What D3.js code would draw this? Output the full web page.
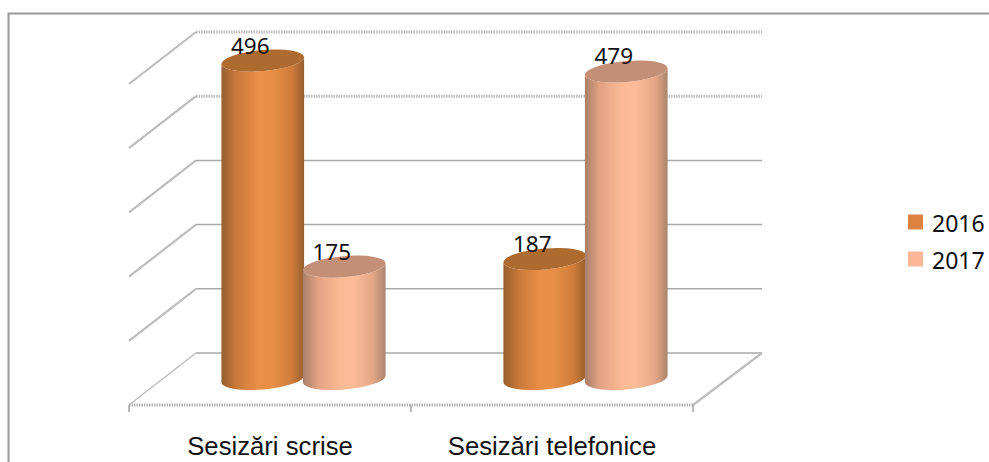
<!DOCTYPE html>
<html>
<head>
<meta charset="utf-8">
<script src="https://d3js.org/d3.v7.min.js"></script>
<style>
  html, body { margin: 0; padding: 0; background: #fff; overflow: hidden; }
  svg { display: block; }
</style>
</head>
<body>
<div class="chart"></div>
<script>
var categories = ["Sesizări scrise", "Sesizări telefonice"];
var seriesNames = ["2016", "2017"];
var values2016 = [496, 187];
var values2017 = [175, 479];
var gridTicks = [0, 100, 200, 300, 400, 500];

var w = 989;
var h = 462;

var frontLeft = 129, frontRight = 693, frontY = 405;
var depthX = 67, depthY = 52; // floor skew, front edge to back wall
var rx = 41.5, ry = 10.5, tilt = -5;

var svg = d3.select(".chart").append("svg")
    .attr("width", w)
    .attr("height", h);

var yScale = d3.scaleLinear().domain([0, 500]).range([353, 32]);
var xScale = d3.scaleBand().domain(categories).range([frontLeft, frontRight]);
var serScale = d3.scaleBand().domain(seriesNames).range([93, 256]);

// gradients for the cylinders
var defs = svg.append("defs");
var gradStops = {
    "2016": ["#95602f", "#c9783a", "#e98f47", "#e98f47", "#cf7c3a", "#97602e"],
    "2017": ["#a97f69", "#e2a283", "#fcb994", "#fdbd98", "#e4a686", "#ab846d"]
};
var stopAt = [0, 0.18, 0.45, 0.6, 0.85, 1];
seriesNames.forEach(function(s) {
    var g = defs.append("linearGradient").attr("id", "cyl" + s);
    gradStops[s].forEach(function(c, i) {
        g.append("stop").attr("offset", stopAt[i]).attr("stop-color", c);
    });
});
var topColor = {"2016": "#ad6b30", "2017": "#c39077"};
var swatchColor = {"2016": "#dc843f", "2017": "#fbb796"};

// outer frame, runs off the picture on the right and bottom
svg.append("path")
    .attr("d", "M8.5," + h + "V13.5H" + w)
    .attr("fill", "none")
    .attr("stroke", "#9a9a9a")
    .attr("stroke-width", 2);

// back wall lines
svg.selectAll(".grid")
    .data(gridTicks)
    .enter().append("line")
    .attr("class", "grid")
    .attr("x1", frontLeft + depthX)
    .attr("x2", 762)
    .attr("y1", function(d) { return yScale(d); })
    .attr("y2", function(d) { return yScale(d); })
    .attr("stroke", function(d) { return d >= 400 ? "#bdbdbd" : "#a9a9a9"; })
    .attr("stroke-width", function(d) { return d >= 400 ? 3 : 1.5; })
    .attr("stroke-dasharray", function(d) { return d >= 400 ? "1.5 1" : null; });

// side wall lines
svg.selectAll(".wall")
    .data(gridTicks)
    .enter().append("line")
    .attr("class", "wall")
    .attr("x1", frontLeft)
    .attr("x2", frontLeft + depthX)
    .attr("y1", function(d) { return yScale(d) + depthY; })
    .attr("y2", function(d) { return yScale(d); })
    .attr("stroke", "#bdbdbd")
    .attr("stroke-width", function(d) { return d > 0 ? 2.2 : 1.5; });

// floor
svg.append("path")
    .attr("d", "M" + frontLeft + "," + frontY + "H" + frontRight)
    .attr("stroke", "#b5b5b5")
    .attr("stroke-width", 3)
    .attr("stroke-dasharray", "1.5 1");
svg.append("line")
    .attr("x1", frontRight)
    .attr("y1", frontY)
    .attr("x2", 762)
    .attr("y2", yScale(0))
    .attr("stroke", "#bdbdbd")
    .attr("stroke-width", 2.2);

// axis labels
var xAxis = d3.axisBottom(xScale).tickSize(0).tickPadding(31);
var axisG = svg.append("g")
    .attr("transform", "translate(0," + (frontY + 1) + ")")
    .call(xAxis);
axisG.select(".domain").remove();
axisG.selectAll("text")
    .attr("fill", "#111")
    .style("font-family", "'Liberation Sans', sans-serif")
    .style("font-size", "25.7px");

svg.selectAll(".tickmark")
    .data([frontLeft, xScale(categories[1]), frontRight])
    .enter().append("line")
    .attr("class", "tickmark")
    .attr("x1", function(d) { return d; })
    .attr("x2", function(d) { return d; })
    .attr("y1", frontY)
    .attr("y2", frontY + 7)
    .attr("stroke", "#a0a0a0")
    .attr("stroke-width", 1.5);

// flatten to one list, drawn left to right so the next cylinder sits on top
var bars = [];
categories.forEach(function(c, i) {
    bars.push({cat: c, ser: "2016", value: values2016[i]});
    bars.push({cat: c, ser: "2017", value: values2017[i]});
});

function cx(d) { return xScale(d.cat) + serScale(d.ser) + serScale.bandwidth() / 2; }
var cylDepth = 26;
function topY(d) { return yScale(d.value) + cylDepth; }
var baseY = yScale(0) + cylDepth;
var dxT = rx * Math.cos(tilt * Math.PI / 180);
var dyT = rx * Math.sin(tilt * Math.PI / 180);

function bodyPath(d) {
    var x = cx(d), t = topY(d);
    return "M" + (x - dxT) + "," + (t - dyT) +
        "L" + (x - dxT) + "," + (baseY - dyT) +
        "A" + rx + "," + ry + "," + tilt + ",0,0," + (x + dxT) + "," + (baseY + dyT) +
        "L" + (x + dxT) + "," + (t + dyT) +
        "A" + rx + "," + ry + "," + tilt + ",0,1," + (x - dxT) + "," + (t - dyT) + "Z";
}

svg.selectAll(".body")
    .data(bars)
    .enter().append("g")
    .each(function(d) {
        var g = d3.select(this);
        g.append("path")
            .attr("d", bodyPath(d))
            .attr("fill", "url(#cyl" + d.ser + ")");
        g.append("ellipse")
            .attr("rx", rx)
            .attr("ry", ry)
            .attr("transform", "translate(" + cx(d) + "," + topY(d) + ") rotate(" + tilt + ")")
            .attr("fill", topColor[d.ser]);
    });

// value labels
svg.selectAll(".val")
    .data(bars)
    .enter().append("text")
    .attr("class", "val")
    .attr("x", function(d) { return cx(d) - 12.5; })
    .attr("y", function(d) { return topY(d) - 7; })
    .attr("text-anchor", "middle")
    .attr("fill", "#111")
    .style("font-family", "'Noto Sans', sans-serif")
    .style("font-size", "22.5px")
    .text(function(d) { return d.value; });

// legend
var legendY = d3.scalePoint().domain(seriesNames).range([222, 259]);
var leg = svg.selectAll(".leg")
    .data(seriesNames)
    .enter().append("g")
    .attr("class", "leg")
    .attr("transform", function(d) { return "translate(908," + legendY(d) + ")"; });
leg.append("rect")
    .attr("y", -7.5)
    .attr("width", 15)
    .attr("height", 15)
    .attr("fill", function(d) { return swatchColor[d]; });
leg.append("text")
    .attr("x", 24)
    .attr("y", 10)
    .attr("fill", "#111")
    .style("font-family", "'Noto Sans', sans-serif")
    .style("font-size", "23px")
    .text(function(d) { return d; });
</script>
</body>
</html>
